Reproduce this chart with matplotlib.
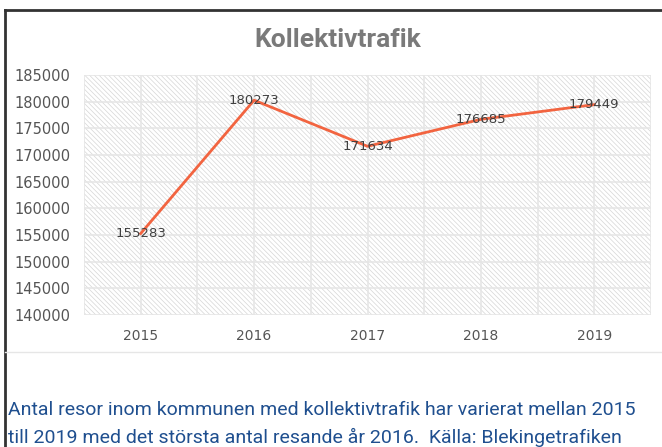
import matplotlib.pyplot as plt
from matplotlib.patches import Rectangle
from matplotlib.lines import Line2D

# Data
years = ['2015', '2016', '2017', '2018', '2019']
resor = [155283, 180273, 171634, 176685, 179449]
y_ticks = [140000, 145000, 150000, 155000, 160000, 165000, 170000, 175000, 180000, 185000]

W, H = 662, 447
plt.rcParams['hatch.linewidth'] = 0.5
fig = plt.figure(figsize=(W / 100, H / 100), dpi=100)

def px(x0, y0, x1, y1):
    # pixel box -> figure fraction [left, bottom, width, height]
    return [x0 / W, 1 - y1 / H, (x1 - x0) / W, (y1 - y0) / H]

ax = fig.add_axes(px(84, 75, 651, 315))
ax.set_xlim(-0.5, len(years) - 0.5)
ax.set_ylim(140000, 185000)

# hatched background
bg = Rectangle((0, 0), 1, 1, transform=ax.transAxes, facecolor='white',
               edgecolor='#d6d6d6', hatch='\\' * 7, linewidth=0, zorder=0)
ax.add_patch(bg)

# grid
for t in y_ticks:
    ax.axhline(t, color='#e6e6e6', lw=1.2, zorder=1)
for i in range(len(years)):
    ax.axvline(i, color='#e6e6e6', lw=1.2, zorder=1)
    ax.axvline(i - 0.5, color='#e6e6e6', lw=1.2, zorder=1)
ax.axvline(len(years) - 0.5, color='#e6e6e6', lw=1.2, zorder=1)

x = list(range(len(years)))
ax.plot(x, resor, color='#f26440', lw=2, zorder=3)
for xi, v in zip(x, resor):
    ax.text(xi, v, str(v), ha='center', va='center', fontsize=9.5,
            color='#404040', zorder=4)

ax.set_xticks(x)
ax.set_xticklabels(years)
ax.set_yticks(y_ticks)
ax.set_yticklabels([str(t) for t in y_ticks])
ax.tick_params(length=0, labelsize=10.5, colors='#555555', pad=10)
ax.tick_params(axis='x', labelsize=10, pad=10)
for s in ax.spines.values():
    s.set_visible(False)

fig.text(338 / W, 1 - 40 / H, 'Kollektivtrafik', ha='center', va='center',
         fontsize=19, fontweight='bold', color='#7a7a7a', family='Roboto')

# frame lines
fig.add_artist(Line2D([5 / W, 1], [1 - 10 / H, 1 - 10 / H], color='#333333', lw=2))
fig.add_artist(Line2D([5 / W, 5 / W], [0, 1 - 10 / H], color='#333333', lw=2))
fig.add_artist(Line2D([5 / W, 1], [1 - 352 / H, 1 - 352 / H], color='#e6e6e6', lw=1))

fig.text(8 / W, 1 - 410 / H, 'Antal resor inom kommunen med kollektivtrafik har varierat mellan 2015',
         ha='left', va='center', fontsize=14, color='#1f4f8f', family='Roboto')
fig.text(8 / W, 1 - 437 / H, 'till 2019 med det största antal resande år 2016.  Källa: Blekingetrafiken',
         ha='left', va='center', fontsize=14, color='#1f4f8f', family='Roboto')

fig.savefig('out.png', dpi=100)
